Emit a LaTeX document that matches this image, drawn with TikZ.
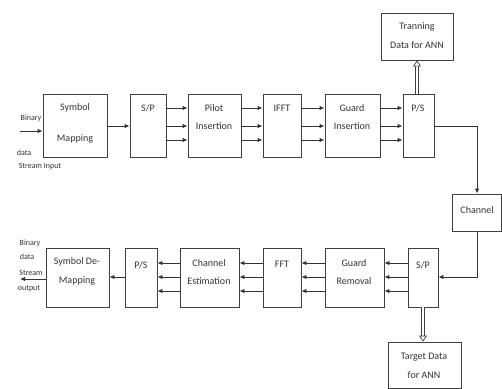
\documentclass[tikz,border=0pt]{standalone}
\usepackage{fontspec}
\setmainfont{Carlito}
\usetikzlibrary{arrows.meta}
\tikzset{
  blk/.style={draw=black!75, line width=0.9pt, inner sep=0pt},
  txt/.style={text=black!80, font=\fontsize{10}{11}\selectfont, inner sep=0pt},
  side/.style={text=black!80, font=\fontsize{8}{9}\selectfont, inner sep=0pt},
  arr/.style={draw=black!80, line width=0.9pt, -{Latex[length=5pt,width=4.5pt]}},
  dbl/.style={draw=black!75, double=white, double distance=2.2pt, line width=0.7pt,
    -{Triangle[open,length=6pt,width=8pt]}}
}
\begin{document}
\begin{tikzpicture}[x=1pt,y=-1pt]
  \useasboundingbox (0,0) rectangle (502,388);
  % rows of the parallel lines
  \coordinate (ta) at (0,108);
  \coordinate (tb) at (0,126);
  \coordinate (tc) at (0,140);
  \coordinate (ba) at (0,263);
  \coordinate (bb) at (0,277);
  \coordinate (bc) at (0,291);
  \coordinate (in) at (20,131);
  \coordinate (out) at (20,279);

  % transmitter
  \node[blk, minimum width=64pt, minimum height=63pt] (symmap) at (75,125.5) {};
  \node[blk, minimum width=36pt, minimum height=63pt] (sp1) at (148,125.5) {};
  \node[blk, minimum width=53pt, minimum height=63pt] (pilot) at (214.5,125.5) {};
  \node[blk, minimum width=38pt, minimum height=63pt] (ifft) at (282,125.5) {};
  \node[blk, minimum width=55pt, minimum height=63pt] (guardins) at (352.5,125.5) {};
  \node[blk, minimum width=31pt, minimum height=63pt] (ps1) at (418.5,125.5) {};
  \node[blk, minimum width=72pt, minimum height=47pt] (train) at (417,36.5) {};
  \node[blk, minimum width=49pt, minimum height=37pt] (chan) at (477,212.5) {};

  % receiver
  \node[blk, minimum width=30pt, minimum height=59pt] (sp2) at (423,277.5) {};
  \node[blk, minimum width=59pt, minimum height=59pt] (guardrem) at (354.5,277.5) {};
  \node[blk, minimum width=38pt, minimum height=59pt] (fft) at (282,277.5) {};
  \node[blk, minimum width=59pt, minimum height=59pt] (chest) at (209.5,277.5) {};
  \node[blk, minimum width=32pt, minimum height=59pt] (ps2) at (141,277.5) {};
  \node[blk, minimum width=63pt, minimum height=59pt] (symdemap) at (77.5,277.5) {};
  \node[blk, minimum width=73pt, minimum height=46pt] (target) at (424.5,365) {};

  % texts
  \node[txt] (t1) at (75,108) {Symbol};
  \node[txt] (t2) at (75,139) {Mapping};
  \node[txt] (t3) at (148,108) {S/P};
  \node[txt] (t4) at (214,108) {Pilot};
  \node[txt] (t5) at (214,126) {Insertion};
  \node[txt] (t6) at (282,108) {IFFT};
  \node[txt] (t7) at (352,108) {Guard};
  \node[txt] (t8) at (352,126) {Insertion};
  \node[txt] (t9) at (418,108) {P/S};
  \node[txt] (t10) at (417,27) {Tranning};
  \node[txt] (t11) at (417,45) {Data for ANN};
  \node[txt] (t12) at (477,210) {Channel};
  \node[txt] (t13) at (423,265) {S/P};
  \node[txt] (t14) at (354,263) {Guard};
  \node[txt] (t15) at (354,281) {Removal};
  \node[txt] (t16) at (282,264) {FFT};
  \node[txt] (t17) at (209,263) {Channel};
  \node[txt] (t18) at (209,281) {Estimation};
  \node[txt] (t19) at (141,265) {P/S};
  \node[txt] (t20) at (77,262) {Symbol De-};
  \node[txt] (t21) at (77,281) {Mapping};
  \node[txt] (t22) at (424,357) {Target Data};
  \node[txt] (t23) at (424,375) {for ANN};
  \node[side] (s1) at (31,118) {Binary};
  \node[side] (s2) at (24,153) {data};
  \node[side] (s3) at (40,167) {Stream Input};
  \node[side] (s4) at (30,243) {Binary};
  \node[side] (s5) at (27,257) {data};
  \node[side] (s6) at (31,273) {Stream};
  \node[side] (s7) at (29,289) {output};

  % top connectors
  \draw[arr] (in) -- (symmap.west |- in);
  \draw[arr] (symmap.east |- tb) -- (sp1.west |- tb);
  \foreach \r in {ta,tb,tc}{
    \draw[arr] (sp1.east |- \r) -- (pilot.west |- \r);
    \draw[arr] (pilot.east |- \r) -- (ifft.west |- \r);
    \draw[arr] (ifft.east |- \r) -- (guardins.west |- \r);
    \draw[arr] (guardins.east |- \r) -- (ps1.west |- \r);
  }
  \coordinate (up) at ([xshift=-1.5pt]ps1.north);
  \draw[dbl] (up) -- (train.south -| up);
  \draw[arr] (ps1.east |- tb) -| (chan.north);

  % bottom connectors
  \draw[arr] (chan.south) |- (sp2.east |- bb);
  \foreach \r in {ba,bb,bc}{
    \draw[arr] (sp2.west |- \r) -- (guardrem.east |- \r);
    \draw[arr] (guardrem.west |- \r) -- (fft.east |- \r);
    \draw[arr] (fft.west |- \r) -- (chest.east |- \r);
    \draw[arr] (chest.west |- \r) -- (ps2.east |- \r);
  }
  \draw[arr] (ps2.west |- bb) -- (symdemap.east |- bb);
  \draw[arr] (symdemap.west |- out) -- (out);
  \draw[dbl] (sp2.south) -- (target.north -| sp2.south);
\end{tikzpicture}
\end{document}
